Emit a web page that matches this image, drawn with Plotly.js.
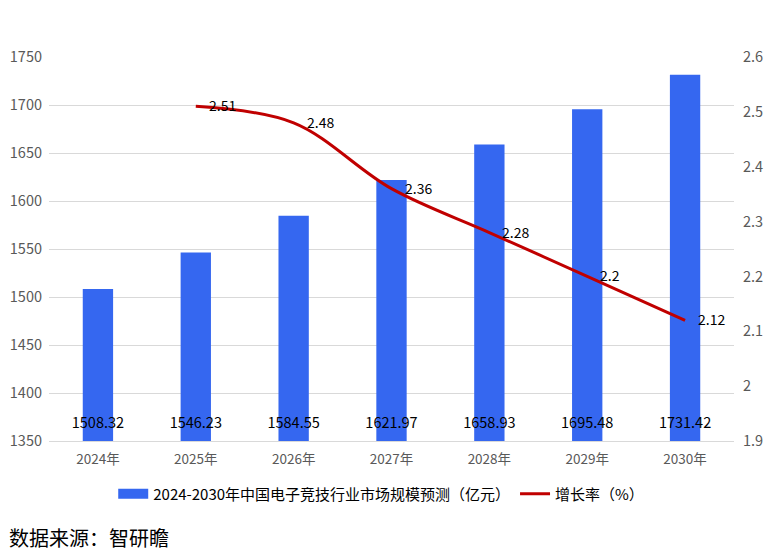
<!DOCTYPE html>
<html><head><meta charset="utf-8">
<script src="https://cdn.plot.ly/plotly-3.0.1.min.js"></script>
<style>html,body{margin:0;padding:0;background:#fff}#c{width:776px;height:556px}</style>
</head><body><div id="c"></div>
<script>
const categories = ['2024年','2025年','2026年','2027年','2028年','2029年','2030年'];
const marketSize = [1508.32,1546.23,1584.55,1621.97,1658.93,1695.48,1731.42];
const growthCats = ['2025年','2026年','2027年','2028年','2029年','2030年'];
const growthRate = [2.51,2.48,2.36,2.28,2.2,2.12];
const barName = '2024-2030年中国电子竞技行业市场规模预测（亿元）';
const lineName = '增长率（%）';
const sourceText = '数据来源：智研瞻';

const F = '"Noto Sans CJK SC", "Noto Sans", sans-serif';
const BLUE = '#3567F0', RED = '#C00000';
const traces = [
  {type:'bar', x:categories, y:marketSize, name:barName, width:0.31,
   marker:{color:BLUE}, hoverinfo:'skip', showlegend:false},
  {type:'scatter', mode:'lines', x:[null], y:[null], name:barName,
   line:{color:BLUE, width:10}, hoverinfo:'skip'},
  {type:'scatter', mode:'text', x:categories, y:marketSize.map(()=>1367),
   text:marketSize.map(v=>v.toFixed(2)), textfont:{family:F,size:14.5,color:'#000'},
   showlegend:false, hoverinfo:'skip'},
  {type:'scatter', mode:'lines', x:growthCats, y:growthRate, yaxis:'y2', name:lineName,
   line:{color:RED, width:3, shape:'spline', smoothing:1}, hoverinfo:'skip'}
];
const lineLabels = growthCats.map((c,i)=>({
  x:c, y:growthRate[i], xref:'x', yref:'y2', text:String(growthRate[i]),
  showarrow:false, xanchor:'left', yanchor:'middle', xshift:11, yshift:1,
  font:{family:F,size:14,color:'#000'}
}));
const layout = {
  width:776, height:556,
  margin:{l:49, r:42, t:57, b:115},
  paper_bgcolor:'#fff', plot_bgcolor:'#fff',
  font:{family:F, color:'#595959'},
  xaxis:{type:'category', tickfont:{size:13.5,color:'#595959'}, showgrid:false,
         showline:true, linecolor:'#d9d9d9', linewidth:1, ticks:'', ticklen:0, ticklabelstandoff:6},
  yaxis:{range:[1350,1750], dtick:50, tick0:1350, gridcolor:'#d9d9d9', zeroline:false,
         tickfont:{size:14.5,color:'#595959'}, ticks:'', ticklabelstandoff:6},
  yaxis2:{range:[1.9,2.6], dtick:0.1, tick0:1.9, overlaying:'y', side:'right',
          showgrid:false, zeroline:false, tickfont:{size:14.5,color:'#595959'}, ticks:'', ticklabelstandoff:8},
  showlegend:true,
  legend:{orientation:'h', x:0.485, xanchor:'center', y:-0.095, yanchor:'top',
          font:{size:15,color:'#000',family:F}, itemwidth:30, tracegroupgap:0},
  annotations:[{text:sourceText, xref:'paper', yref:'paper', x:-0.062, y:-0.25,
    xanchor:'left', yanchor:'middle', showarrow:false, font:{size:20,color:'#000',family:F}}].concat(lineLabels)
};
Plotly.newPlot('c', traces, layout, {displayModeBar:false, staticPlot:true});
</script></body></html>
